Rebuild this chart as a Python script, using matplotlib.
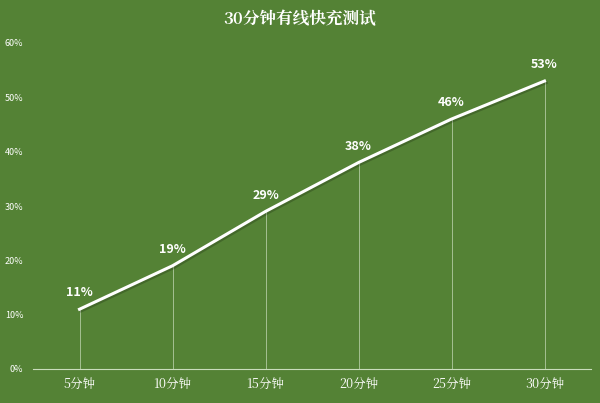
import matplotlib
matplotlib.use("Agg")
import matplotlib.pyplot as plt
import matplotlib.patheffects as pe

categories = ["5分钟", "10分钟", "15分钟", "20分钟", "25分钟", "30分钟"]
values = [11, 19, 29, 38, 46, 53]
yticks = [0, 10, 20, 30, 40, 50, 60]

plt.rcParams['font.family'] = ['Noto Sans CJK SC', 'DejaVu Sans']
bg = '#548235'
fig = plt.figure(figsize=(6, 4.03), dpi=100, facecolor=bg)
ax = fig.add_axes([33/600, 1-369/403, 558/600, (369-43)/403], facecolor=bg)
x = list(range(len(categories)))
ax.vlines(x, 0, values, color='#c9dcbc', lw=0.6, alpha=0.8)
ax.plot(x, values, color='white', lw=2.2,
        path_effects=[pe.SimpleLineShadow(offset=(1.2, -1.2), alpha=0.2), pe.Normal()])
for xi, v in zip(x, values):
    ax.text(xi, v + 1.8, f"{v}%", color='white', ha='center', va='bottom',
            fontsize=9, fontweight='bold')
ax.set_xlim(-0.5, len(categories) - 0.5)
ax.set_ylim(0, 60)
ax.set_yticks(yticks)
ax.set_yticklabels([f"{t}%" for t in yticks], color='white', fontsize=6.5)
ax.set_xticks(x)
ax.set_xticklabels(categories, color='white', fontsize=9, family=['Noto Serif CJK SC', 'Noto Sans CJK SC'])
ax.tick_params(axis='x', length=0, pad=6)
ax.tick_params(axis='y', length=0, pad=7)
for s in ['top', 'right', 'left']:
    ax.spines[s].set_visible(False)
ax.spines['bottom'].set_color('#c9dcbc')
ax.spines['bottom'].set_linewidth(0.8)
fig.text(0.5, 1-19/403, "30分钟有线快充测试", color='white', ha='center', va='center',
         fontsize=12, fontweight='bold', family=['Noto Serif CJK SC', 'Noto Sans CJK SC'])
fig.savefig("out.png", dpi=100, facecolor=bg)
